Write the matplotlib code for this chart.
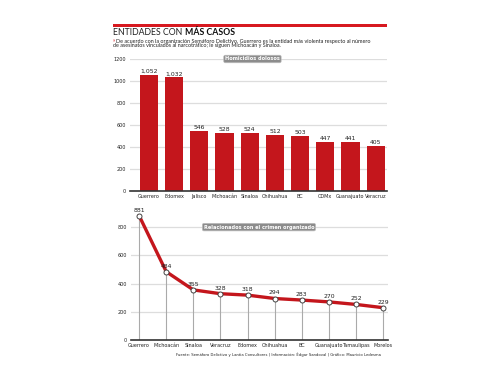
import matplotlib
matplotlib.use("Agg")
import matplotlib.pyplot as plt
from matplotlib.patches import Rectangle
from matplotlib import font_manager

names = sorted({f.name for f in font_manager.fontManager.ttflist})
COND = ['DejaVu Sans Condensed', 'DejaVu Sans'] if 'DejaVu Sans Condensed' in names else ['Liberation Sans Narrow', 'DejaVu Sans']
plt.rcParams['font.family'] = COND

bar_states = ["Guerrero", "Edomex", "Jalisco", "Michoacán", "Sinaloa", "Chihuahua", "BC", "CDMx", "Guanajuato", "Veracruz"]
bar_values = [1052, 1032, 546, 528, 524, 512, 503, 447, 441, 405]
bar_labels = ["1,052", "1,032", "546", "528", "524", "512", "503", "447", "441", "405"]

line_states = ["Guerrero", "Michoacán", "Sinaloa", "Veracruz", "Edomex", "Chihuahua", "BC", "Guanajuato", "Tamaulipas", "Morelos"]
line_values = [881, 484, 355, 328, 318, 294, 283, 270, 252, 229]

bar_ticks = [0, 200, 400, 600, 800, 1000, 1200]
line_ticks = [0, 200, 400, 600, 800]

RED = "#c4161c"
W, H = 490, 390
fig = plt.figure(figsize=(W / 100, H / 100), dpi=100)

def fx(px):
    return px / W

def fy(py):
    return 1 - py / H

# Top red rule
fig.add_artist(Rectangle((fx(113), fy(26.5)), fx(387) - fx(113), 3 / H, transform=fig.transFigure,
                         color="#d71920", lw=0))
t1 = fig.text(fx(113), fy(35), "ENTIDADES CON ", fontsize=6.3, color="#222222", va="baseline",
              family=['Lato', 'DejaVu Sans'])
fig.canvas.draw()
bb = t1.get_window_extent()
fig.text(bb.x1 / W, fy(35), "MÁS CASOS", fontsize=6.3, color="#111111", va="baseline", fontweight="bold",
         family=['Lato', 'DejaVu Sans'])
fig.text(fx(113), fy(42.5), "»", fontsize=4.0, color="#d71920", va="baseline", family=['Lato', 'DejaVu Sans'])
fig.text(fx(116), fy(42.5), "De acuerdo con la organización Semáforo Delictivo, Guerrero es la entidad más violenta respecto al número",
         fontsize=3.9, color="#222222", va="baseline", family=['Lato', 'DejaVu Sans'])
fig.text(fx(113), fy(47.5), "de asesinatos vinculados al narcotráfico; le siguen Michoacán y Sinaloa.",
         fontsize=3.9, color="#222222", va="baseline", family=['Lato', 'DejaVu Sans'])

TICK_FS = 3.5

# ---- Bar chart ----
ax1 = fig.add_axes([fx(130), fy(191), fx(387) - fx(130), fy(59) - fy(191)])
x = list(range(len(bar_states)))
ax1.bar(x, bar_values, width=0.72, color=RED, zorder=3)
for xi, v, lab in zip(x, bar_values, bar_labels):
    ax1.text(xi, v + 10, lab, ha="center", va="bottom", fontsize=4.4, color="#222222")
ax1.set_xlim(-0.75, 9.45)
ax1.set_ylim(0, 1200)
ax1.set_yticks(bar_ticks)
ax1.set_yticklabels([str(t) for t in bar_ticks], fontsize=TICK_FS, color="#222222")
ax1.set_xticks(x)
ax1.set_xticklabels(bar_states, fontsize=TICK_FS, color="#222222")
ax1.tick_params(axis="both", length=0, pad=3)
ax1.tick_params(axis="x", pad=2)
ax1.grid(axis="y", color="#dddddd", lw=0.9, zorder=0)
for s in ["top", "right", "left"]:
    ax1.spines[s].set_visible(False)
ax1.spines["bottom"].set_color("#333333")
ax1.spines["bottom"].set_linewidth(1.2)
ax1.spines["bottom"].set_zorder(4)
ax1.text(4.11, 1200, "Homicidios dolosos", fontsize=3.6, color="white", ha="center", va="center", fontweight="bold",
         bbox=dict(boxstyle="round,pad=0.25,rounding_size=0.3", fc="#8c8c8c", ec="#bbbbbb", lw=0.5), zorder=5,
         clip_on=False)

# ---- Line chart ----
ax2 = fig.add_axes([fx(131), fy(340), fx(388) - fx(131), fy(213) - fy(340)])
x2 = list(range(len(line_states)))
for xi, v in zip(x2, line_values):
    ax2.plot([xi, xi], [0, v], color="#aaaaaa", lw=0.8, zorder=2)
ax2.plot(x2, line_values, color=RED, lw=2.4, zorder=3, solid_capstyle="round")
ax2.plot(x2, line_values, ls="none", marker="o", ms=3.6, mfc="white", mec="#444444", mew=0.7, zorder=4,
         clip_on=False)
for xi, v in zip(x2, line_values):
    ax2.text(xi, v + 22, str(v), ha="center", va="bottom", fontsize=4.4, color="#222222", zorder=5)
ax2.set_xlim(-0.3, 9.18)
ax2.set_ylim(0, 900)
ax2.set_yticks(line_ticks)
ax2.set_yticklabels([str(t) for t in line_ticks], fontsize=TICK_FS, color="#222222")
ax2.set_xticks(x2)
ax2.set_xticklabels(line_states, fontsize=TICK_FS, color="#222222")
ax2.tick_params(axis="both", length=0, pad=3)
ax2.tick_params(axis="x", pad=2)
ax2.grid(axis="y", color="#dddddd", lw=0.9, zorder=0)
for s in ["top", "right", "left"]:
    ax2.spines[s].set_visible(False)
ax2.spines["bottom"].set_color("#333333")
ax2.spines["bottom"].set_linewidth(1.2)
ax2.spines["bottom"].set_zorder(4)
ax2.text(4.42, 800, "Relacionados con el crimen organizado", fontsize=3.6, color="white", ha="center", va="center",
         fontweight="bold",
         bbox=dict(boxstyle="round,pad=0.25,rounding_size=0.3", fc="#8c8c8c", ec="#bbbbbb", lw=0.5), zorder=5)

fig.text(fx(381), fy(356), "Fuente: Semáforo Delictivo y Lantia Consultores | Información: Édgar Sandoval | Gráfico: Mauricio Ledesma",
         fontsize=2.7, color="#222222", va="baseline", ha="right")

fig.savefig("out.png", dpi=100, facecolor="white")
